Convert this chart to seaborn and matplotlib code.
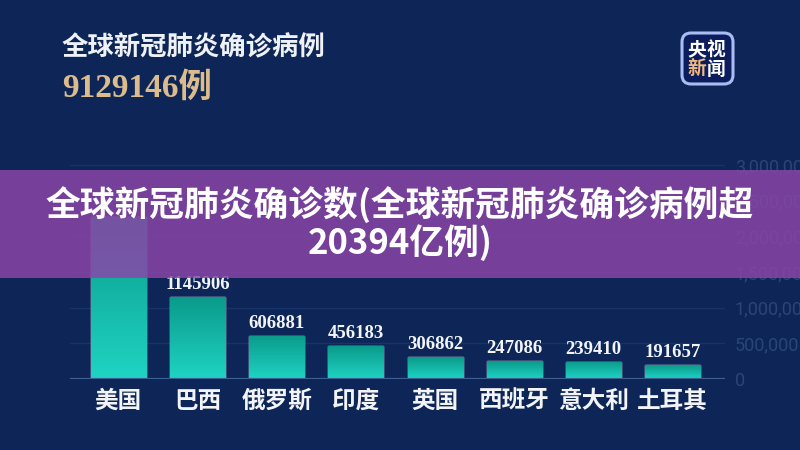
import numpy as np
import pandas as pd
import matplotlib
matplotlib.use("Agg")
import matplotlib.pyplot as plt
import seaborn as sns
from matplotlib.patches import Rectangle, FancyBboxPatch
from matplotlib.colors import LinearSegmentedColormap

# data
countries = ['美国', '巴西', '俄罗斯', '印度', '英国', '西班牙', '意大利', '土耳其']
cases = [2270000, 1145906, 606881, 456183, 306862, 247086, 239410, 191657]
tick_values = [0, 500000, 1000000, 1500000, 2000000, 2500000, 3000000]
title_text = '全球新冠肺炎确诊病例'
total_text = '9129146例'
banner_lines = ['全球新冠肺炎确诊数(全球新冠肺炎确诊病例超', '20394亿例)']

BG = '#0d2657'
CJK = ['Noto Sans CJK SC', 'DejaVu Sans']

sns.set_theme(style='white', rc={'axes.facecolor': BG, 'figure.facecolor': BG})
plt.rcParams['font.family'] = CJK

df = pd.DataFrame({'country': countries, 'cases': cases})

W, H = 800, 450
fig = plt.figure(figsize=(8, 4.5), dpi=100)
ax = fig.add_axes([70 / W, 1 - 379 / H, 655 / W, 221 / H])

sns.barplot(data=df, x='country', y='cases', color='#14b8a8', width=0.695,
            saturation=1, ax=ax, zorder=2)

# vertical teal gradient inside each bar
cmap = LinearSegmentedColormap.from_list('teal', ['#0a9a8b', '#1fd4c3'])
grad = np.linspace(0, 1, 256).reshape(-1, 1)
for bar in ax.patches:
    x0, w, h = bar.get_x(), bar.get_width(), bar.get_height()
    im = ax.imshow(grad, extent=[x0, x0 + w, 0, h], aspect='auto', cmap=cmap,
                   zorder=2.5)
    im.set_clip_path(bar)

ax.set_xlim(-0.61, 7.66)
ax.set_ylim(0, 3100000)

# value labels (the US one sits under the banner)
for i, v in enumerate(cases):
    if i == 0:
        continue
    ax.annotate(str(v), (i, v), xytext=(0, 3), textcoords='offset points',
                ha='center', va='bottom', color='#f2f4f8', fontsize=13.5,
                fontweight='bold', family=['Liberation Serif', 'DejaVu Serif'])

ax.set_xlabel('')
ax.set_ylabel('')
ax.set_xticks(range(len(countries)))
ax.set_xticklabels(countries, fontsize=17, fontweight='bold', color='#f2f4f8')
ax.tick_params(axis='x', length=0, pad=7)

ax.yaxis.tick_right()
ax.set_yticks(tick_values)
ax.set_yticklabels([f'{t:,}' for t in tick_values], family=['Roboto', 'DejaVu Sans'],
                   fontsize=13, color='#2a4579')
ax.tick_params(axis='y', length=0, pad=7)

ax.yaxis.grid(True, color='#17346a', lw=1, zorder=0)
ax.xaxis.grid(False)
ax.axhline(0, color='#3d5e92', lw=1.6, zorder=3)
for s in ax.spines.values():
    s.set_visible(False)

# header
fig.text(62 / W, 1 - 48 / H, title_text, va='center', ha='left', fontsize=19,
         fontweight='bold', color='#eef1f5')
fig.text(62 / W, 1 - 88 / H, total_text, va='center', ha='left', fontsize=24,
         fontweight='bold', color='#dcbc8c',
         family=['Liberation Serif', 'Noto Sans CJK SC'])

# logo
logo = FancyBboxPatch((6.82, (H - 84) / 100), 0.51, 0.51,
                      boxstyle='round,pad=0,rounding_size=0.09',
                      transform=fig.dpi_scale_trans, facecolor='#0b1d5c',
                      edgecolor='#a9bdf2', lw=2.2, zorder=4)
fig.add_artist(logo)
for ch, x, y, c in [('央', 697, 50, '#ffffff'), ('视', 716, 50, '#ffffff'),
                    ('新', 697, 69, '#f3b97f'), ('闻', 716, 69, '#ffffff')]:
    fig.text(x / W, 1 - y / H, ch, ha='center', va='center', fontsize=13.5,
             fontweight='bold', color=c, zorder=5)

# purple banner overlay
banner = Rectangle((0, 1 - 278 / H), 1, 108 / H, transform=fig.transFigure,
                   facecolor='#8a45a8', edgecolor='none', lw=0, alpha=0.84,
                   zorder=6)
fig.add_artist(banner)
fig.text(0.5, 1 - 205 / H, banner_lines[0], ha='center', va='center',
         fontsize=25, fontweight='bold', color='white', zorder=7)
fig.text(0.5, 1 - 243 / H, banner_lines[1], ha='center', va='center',
         fontsize=25, fontweight='bold', color='white', zorder=7)

fig.savefig('out.png', dpi=100, facecolor=BG)
